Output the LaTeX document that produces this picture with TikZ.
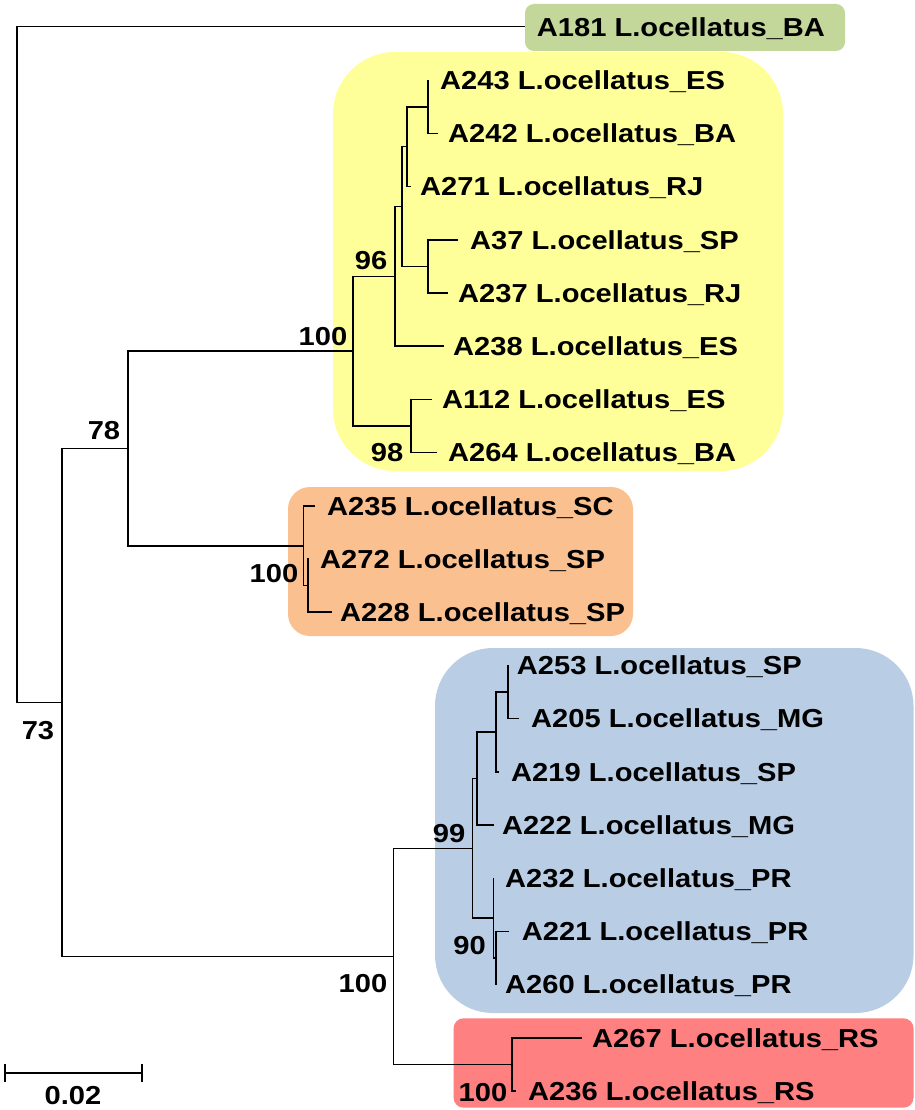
\documentclass[tikz,border=0pt]{standalone}
\usepackage{fontspec}
\newfontfamily\lab{Liberation Sans}[FakeStretch=1.12]
\definecolor{cgreen}{HTML}{C4D79B}
\definecolor{cyellow}{HTML}{FFFF99}
\definecolor{corange}{HTML}{FAC090}
\definecolor{cblue}{HTML}{B9CDE5}
\definecolor{cred}{HTML}{FF8080}
\begin{document}
\begin{tikzpicture}[x=1pt,y=-1pt,
  br/.style={line width=1.6pt, black},
  lbl/.style={font=\lab\bfseries\fontsize{26}{30}\selectfont, inner sep=0pt, text height=18.7pt, text depth=0pt},
  leaf/.style={lbl, anchor=west},
  boot/.style={lbl, anchor=center}]
\useasboundingbox (0,0) rectangle (914,1110);
% group boxes
\fill[cgreen, rounded corners=9pt] (525,4) rectangle (845,51);
\fill[cyellow, rounded corners=62pt] (333,52) rectangle (783,471);
\fill[corange, rounded corners=22pt] (288,487) rectangle (633,636);
\fill[cblue, rounded corners=58pt] (435,648) rectangle (913.5,1013);
\fill[cred, rounded corners=10pt] (453.6,1018.3) rectangle (913.5,1107.7);
% leaves
\node[leaf, inner xsep=11.7pt] (A181) at (525,26.7) {A181 L.ocellatus\_BA};
\node[leaf, inner xsep=12pt] (A243) at (428,80.2) {A243 L.ocellatus\_ES};
\node[leaf, inner xsep=10pt] (A242) at (438,133.4) {A242 L.ocellatus\_BA};
\node[leaf, inner xsep=9pt] (A271) at (411,186.6) {A271 L.ocellatus\_RJ};
\node[leaf, inner xsep=12pt] (A37) at (458,239.8) {A37 L.ocellatus\_SP};
\node[leaf, inner xsep=10pt] (A237) at (448,293) {A237 L.ocellatus\_RJ};
\node[leaf, inner xsep=9pt] (A238) at (444,346.2) {A238 L.ocellatus\_ES};
\node[leaf, inner xsep=10pt] (A112) at (432,399.4) {A112 L.ocellatus\_ES};
\node[leaf, inner xsep=11pt] (A264) at (437,452.6) {A264 L.ocellatus\_BA};
\node[leaf, inner xsep=12pt] (A235) at (315,505.8) {A235 L.ocellatus\_SC};
\node[leaf, inner xsep=11.5pt] (A272) at (308.5,559) {A272 L.ocellatus\_SP};
\node[leaf, inner xsep=8pt] (A228) at (332,612.2) {A228 L.ocellatus\_SP};
\node[leaf, inner xsep=9pt] (A253) at (507.7,665.4) {A253 L.ocellatus\_SP};
\node[leaf, inner xsep=11.7pt] (A205) at (519.3,718.6) {A205 L.ocellatus\_MG};
\node[leaf, inner xsep=12pt] (A219) at (499,771.8) {A219 L.ocellatus\_SP};
\node[leaf, inner xsep=8pt] (A222) at (494,825) {A222 L.ocellatus\_MG};
\node[leaf, inner xsep=11.7pt] (A232) at (493.3,878.2) {A232 L.ocellatus\_PR};
\node[leaf, inner xsep=12.4pt] (A221) at (509.3,931.4) {A221 L.ocellatus\_PR};
\node[leaf, inner xsep=9pt] (A260) at (496,984.6) {A260 L.ocellatus\_PR};
\node[leaf, inner xsep=10pt] (A267) at (582,1037.8) {A267 L.ocellatus\_RS};
\node[leaf, inner xsep=12pt] (A236) at (516,1091) {A236 L.ocellatus\_RS};
% internal nodes
\coordinate (n428a) at (428,106.8);
\coordinate (n406) at (407,146.7);
\coordinate (n428b) at (428,266.4);
\coordinate (n402) at (402,206.55);
\coordinate (n96) at (395,276.4);
\coordinate (n98) at (411,426);
\coordinate (n100y) at (353,351.2);
\coordinate (n308) at (308,585.6);
\coordinate (n100o) at (303.5,545.7);
\coordinate (n78) at (128,448.45);
\coordinate (n3) at (507.7,692);
\coordinate (n2) at (496,731.9);
\coordinate (nup) at (477,778.45);
\coordinate (n90) at (496,958);
\coordinate (n232) at (493.3,918.1);
\coordinate (n99) at (472.5,848.3);
\coordinate (n100r) at (512,1064.4);
\coordinate (n100b) at (393.6,956.35);
\coordinate (n73) at (62,702.4);
\coordinate (root) at (17,364.55);
% branches
\draw[br] (A243.west) -| (n428a) |- (A242.west);
\draw[br] (n428a) -| (n406) |- (A271.west);
\draw[br] (A37.west) -| (n428b) |- (A237.west);
\draw[br] (n406) -| (n402) |- (n428b);
\draw[br] (n402) -| (n96) |- (A238.west);
\draw[br] (A112.west) -| (n98) |- (A264.west);
\draw[br] (n96) -| (n100y) |- (n98);
\draw[br] (A272.west) -| (n308) |- (A228.west);
\draw[br] (A235.west) -| (n100o) |- (n308);
\draw[br] (n100y) -| (n78) |- (n100o);
\draw[br] (A253.west) -| (n3) |- (A205.west);
\draw[br] (n3) -| (n2) |- (A219.west);
\draw[br] (n2) -| (nup) |- (A222.west);
\draw[br] (A221.west) -| (n90) |- (A260.west);
\draw[br] (A232.west) -| (n232) |- (n90);
\draw[br] (nup) -| (n99) |- (n232);
\draw[br] (A267.west) -| (n100r) |- (A236.west);
\draw[br] (n99) -| (n100b) |- (n100r);
\draw[br] (n78) -| (n73) |- (n100b);
\draw[br] (A181.west) -| (root) |- (n73);
% bootstrap values
\node[boot] (b96) at (371,260) {96};
\node[boot] (b100y) at (323,336) {100};
\node[boot] (b98) at (387,452) {98};
\node[boot] (b78) at (104,430) {78};
\node[boot] (b73) at (38,730) {73};
\node[boot] (b100o) at (274,573) {100};
\node[boot] (b99) at (449,833) {99};
\node[boot] (b90) at (469.5,945) {90};
\node[boot] (b100b) at (363,983) {100};
\node[boot] (b100r) at (483,1092) {100};
% scale bar
\coordinate (s1) at (4.7,1072.7);
\coordinate (s2) at (141.7,1072.7);
\draw[br] (s1) -- (s2);
\draw[br] ([yshift=8.7pt]s1) -- ([yshift=-9pt]s1);
\draw[br] ([yshift=8.7pt]s2) -- ([yshift=-9pt]s2);
\node[boot] (scl) at (73,1095) {0.02};
\end{tikzpicture}
\end{document}
